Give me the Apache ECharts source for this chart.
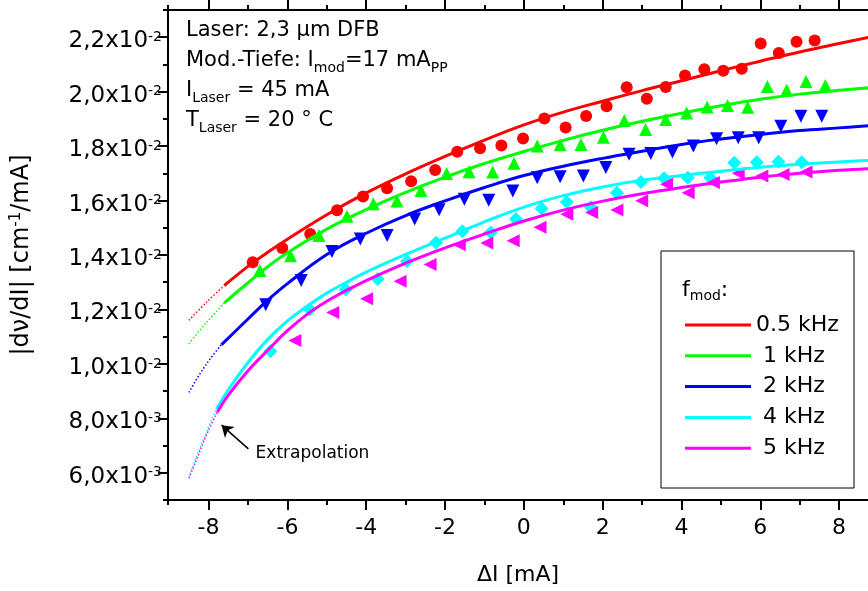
<!DOCTYPE html>
<html>
<head>
<meta charset="utf-8">
<script src="https://cdn.jsdelivr.net/npm/echarts@6/dist/echarts.min.js"></script>
<style>
  html, body { margin: 0; padding: 0; background: #fff; }
  #chart { width: 868px; height: 591px; }
</style>
</head>
<body>
<div id="chart"></div>
<script>
// ---- axis ranges and tick positions ----
const X_MIN = -9.03, X_MAX = 8.733;
const Y_MIN = 0.005, Y_MAX = 0.023;
const xMajorTicks = [-8, -6, -4, -2, 0, 2, 4, 6, 8];
const xMinorTicks = [-9.03, -7, -5, -3, -1, 1, 3, 5, 7];
const yMajorTicks = [0.006, 0.008, 0.010, 0.012, 0.014, 0.016, 0.018, 0.020, 0.022];
const yMinorTicks = [0.005, 0.007, 0.009, 0.011, 0.013, 0.015, 0.017, 0.019, 0.021, 0.023];

// ---- measured tuning rates |dv/dI| per modulation frequency ----
const x05 = [-6.88, -6.13, -5.42, -4.74, -4.08, -3.47, -2.86, -2.25, -1.69, -1.11, -0.57, -0.02, 0.52, 1.06, 1.58, 2.10, 2.61, 3.12, 3.60, 4.09, 4.58, 5.06, 5.53, 6.01, 6.47, 6.92, 7.38];
const y05 = [0.01373, 0.01426, 0.01477, 0.01564, 0.01615, 0.01645, 0.01671, 0.01712, 0.01779, 0.01792, 0.01802, 0.01828, 0.01901, 0.01868, 0.01911, 0.01946, 0.02016, 0.01974, 0.02017, 0.02059, 0.02082, 0.02077, 0.02084, 0.02177, 0.02142, 0.02183, 0.02188];

const x1 = [-6.70, -5.92, -5.20, -4.49, -3.82, -3.22, -2.61, -1.96, -1.39, -0.79, -0.25, 0.34, 0.92, 1.45, 2.02, 2.55, 3.09, 3.60, 4.13, 4.65, 5.17, 5.68, 6.18, 6.67, 7.16, 7.65];
const y1 = [0.01343, 0.01397, 0.01472, 0.01542, 0.01588, 0.01598, 0.01637, 0.01699, 0.01706, 0.01705, 0.01737, 0.01800, 0.01805, 0.01806, 0.01833, 0.01894, 0.01861, 0.01898, 0.01922, 0.01944, 0.01949, 0.01943, 0.02019, 0.02005, 0.02037, 0.02023];

const x2 = [-6.55, -5.65, -4.87, -4.15, -3.47, -2.77, -2.15, -1.51, -0.89, -0.28, 0.34, 0.92, 1.51, 2.08, 2.67, 3.22, 3.77, 4.30, 4.89, 5.44, 5.96, 6.52, 7.03, 7.56];
const y2 = [0.01217, 0.01306, 0.01413, 0.01459, 0.01472, 0.01532, 0.01566, 0.01605, 0.01601, 0.01635, 0.01684, 0.01687, 0.01690, 0.01721, 0.01770, 0.01773, 0.01778, 0.01800, 0.01827, 0.01831, 0.01831, 0.01873, 0.01910, 0.01910];

const x4 = [-6.43, -5.43, -4.52, -3.71, -2.96, -2.23, -1.56, -0.84, -0.20, 0.45, 1.09, 1.70, 2.36, 2.97, 3.56, 4.16, 4.73, 5.34, 5.91, 6.46, 7.05];
const y4 = [0.01046, 0.01200, 0.01273, 0.01312, 0.01377, 0.01445, 0.01487, 0.01483, 0.01532, 0.01571, 0.01595, 0.01575, 0.01629, 0.01668, 0.01682, 0.01684, 0.01684, 0.01739, 0.01741, 0.01743, 0.01741];

const x5 = [-5.81, -4.85, -3.99, -3.14, -2.38, -1.64, -0.94, -0.27, 0.41, 1.09, 1.72, 2.36, 2.99, 3.62, 4.17, 4.81, 5.44, 6.04, 6.58, 7.16];
const y5 = [0.01086, 0.01189, 0.01239, 0.01304, 0.01365, 0.01438, 0.01444, 0.01452, 0.01502, 0.01550, 0.01556, 0.01565, 0.01599, 0.01660, 0.01629, 0.01666, 0.01700, 0.01690, 0.01696, 0.01705];

// ---- fitted curves (solid) and their extrapolation towards low currents (dotted) ----
const fit05 = [[-7.6, 0.01288], [-7, 0.01358], [-6.5, 0.01410], [-6, 0.01458], [-5, 0.01548], [-4, 0.01628], [-3, 0.01698], [-2, 0.01762], [-1, 0.01822], [0, 0.01878], [1, 0.01925], [2, 0.01965], [3, 0.02004], [4, 0.02040], [5, 0.02077], [6, 0.02112], [7, 0.02146], [8, 0.02177], [8.74, 0.02199]];
const ext05 = [[-8.5, 0.01160], [-8.2, 0.01205], [-7.9, 0.01248], [-7.6, 0.01288]];

const fit1 = [[-7.6, 0.01224], [-7, 0.01298], [-6.5, 0.01357], [-6, 0.01408], [-5, 0.01495], [-4, 0.01567], [-3, 0.01630], [-2, 0.01686], [-1, 0.01736], [0, 0.01780], [1, 0.01821], [2, 0.01858], [3, 0.01891], [4, 0.01921], [5, 0.01948], [6, 0.01972], [7, 0.01991], [8, 0.02005], [8.74, 0.02014]];
const ext1 = [[-8.5, 0.01074], [-8.2, 0.01127], [-7.9, 0.01177], [-7.6, 0.01224]];

const fit2 = [[-7.67, 0.01071], [-7, 0.01165], [-6.5, 0.01234], [-6, 0.01295], [-5, 0.01402], [-4, 0.01480], [-3, 0.01545], [-2, 0.01599], [-1, 0.01648], [0, 0.01692], [1, 0.01726], [2, 0.01755], [3, 0.01781], [4, 0.01806], [5, 0.01826], [6, 0.01843], [7, 0.01857], [8, 0.01867], [8.74, 0.01875]];
const ext2 = [[-8.5, 0.00895], [-8.2, 0.00968], [-7.9, 0.01030], [-7.67, 0.01071]];

const fit4 = [[-7.8, 0.00834], [-7.5, 0.00905], [-7, 0.01005], [-6.5, 0.01090], [-6, 0.01158], [-5.5, 0.01212], [-5, 0.01260], [-4.5, 0.01300], [-4, 0.01337], [-3, 0.01402], [-2, 0.01462], [-1, 0.01522], [0, 0.01576], [1, 0.01618], [2, 0.01650], [3, 0.01675], [4, 0.01692], [5, 0.01708], [6, 0.01722], [7, 0.01733], [8, 0.01742], [8.74, 0.01747]];
const ext4 = [[-8.5, 0.00585], [-8.3, 0.00662], [-8.05, 0.00750], [-7.8, 0.00834]];

const fit5 = [[-7.78, 0.00822], [-7.5, 0.00885], [-7, 0.00975], [-6.5, 0.01050], [-6, 0.01122], [-5.5, 0.01182], [-5, 0.01230], [-4.5, 0.01270], [-4, 0.01306], [-3, 0.01370], [-2, 0.01426], [-1, 0.01477], [0, 0.01525], [1, 0.01565], [2, 0.01598], [3, 0.01625], [4, 0.01648], [5, 0.01668], [6, 0.01686], [7, 0.01700], [8, 0.01711], [8.74, 0.01717]];
const ext5 = [[-8.5, 0.00580], [-8.3, 0.00650], [-8.05, 0.00740], [-7.78, 0.00822]];

const freqNames = ['0.5 kHz', '1 kHz', '2 kHz', '4 kHz', '5 kHz'];

// ---- annotation arrow (data coordinates) ----
const arrowFrom = [-6.99, 0.00688];
const arrowTo = [-7.67, 0.00775];
const arrowLabelAt = [-6.82, 0.00672];

const FONT = 'DejaVu Sans';
const BLACK = '#000';
const axisLine = { color: BLACK, width: 2 };

function yTickLabel(v) {
  const exp = Math.floor(Math.log10(v) + 1e-9);
  const mant = (v / Math.pow(10, exp)).toFixed(1).replace('.', ',');
  return '{m|' + mant + 'x10}{e|' + exp + '}';
}

function pairs(xs, ys) { return xs.map((x, i) => [x, ys[i]]); }

const groups = [
  { name: freqNames[0], color: '#ff0000', pts: pairs(x05, y05), fit: fit05, ext: ext05, symbol: 'circle', rot: 0, size: 12 },
  { name: freqNames[1], color: '#00ff00', pts: pairs(x1, y1), fit: fit1, ext: ext1, symbol: 'triangle', rot: 0, size: 13 },
  { name: freqNames[2], color: '#0000ff', pts: pairs(x2, y2), fit: fit2, ext: ext2, symbol: 'triangle', rot: 180, size: 13 },
  { name: freqNames[3], color: '#00ffff', pts: pairs(x4, y4), fit: fit4, ext: ext4, symbol: 'diamond', rot: 0, size: 14 },
  { name: freqNames[4], color: '#ff00ff', pts: pairs(x5, y5), fit: fit5, ext: ext5, symbol: 'triangle', rot: 90, size: 13 }
];

const series = [];
groups.forEach((g, i) => {
  series.push({
    name: g.name + ' Messwerte', type: 'scatter', data: g.pts,
    symbol: g.symbol, symbolRotate: g.rot, symbolSize: g.size,
    itemStyle: { color: g.color, opacity: 1 }, z: 2
  });
  series.push({
    name: g.name, type: 'line', data: g.fit, smooth: 0.4,
    symbol: 'none', showSymbol: false,
    lineStyle: { color: g.color, width: 3 }, itemStyle: { color: g.color }, z: 3
  });
  const ext = {
    name: g.name + ' extrapoliert', type: 'line', data: g.ext, smooth: 0.4,
    symbol: 'none', showSymbol: false,
    lineStyle: { color: g.color, width: 1.5, type: [1.5, 2] }, z: 3
  };
  if (i === groups.length - 1) {
    ext.markLine = {
      silent: true, animation: false,
      symbol: ['none', 'arrow'], symbolSize: 11,
      itemStyle: { color: BLACK },
      lineStyle: { color: BLACK, width: 1.5, type: 'solid' },
      label: { show: false },
      z: 10,
      data: [[{ coord: arrowFrom }, { coord: arrowTo }]]
    };
    ext.markPoint = {
      silent: true, animation: false,
      symbol: 'circle', symbolSize: 1, itemStyle: { color: 'rgba(0,0,0,0)' },
      data: [{
        coord: arrowLabelAt,
        label: { show: true, position: 'right', distance: 0, formatter: 'Extrapolation',
                 color: BLACK, fontFamily: FONT, fontSize: 17 }
      }]
    };
  }
  series.push(ext);
});

const tickStyle = { color: BLACK, width: 2 };
function xAxisDef(pos, ticks, len, withLine, withLabels) {
  const a = {
    type: 'value', position: pos, min: X_MIN, max: X_MAX,
    splitLine: { show: false },
    axisLine: { show: withLine, onZero: false, lineStyle: axisLine },
    axisTick: { show: true, customValues: ticks, length: len, lineStyle: tickStyle },
    axisLabel: { show: false }
  };
  if (withLabels) {
    a.axisLabel = { show: true, customValues: ticks, margin: 17, color: BLACK, fontFamily: FONT, fontSize: 22 };
    a.name = 'ΔI [mA]';
    a.nameLocation = 'middle';
    a.nameGap = 64;
    a.nameTextStyle = { color: BLACK, fontFamily: FONT, fontSize: 22 };
  }
  return a;
}

const option = {
  animation: false,
  backgroundColor: '#fff',
  textStyle: { fontFamily: FONT },
  grid: { left: 168, right: 0, top: 10, bottom: 89 },
  xAxis: [
    xAxisDef('bottom', xMajorTicks, 10, true, true),
    xAxisDef('bottom', xMinorTicks, 5, false, false),
    xAxisDef('top', xMajorTicks, 10, true, false),
    xAxisDef('top', xMinorTicks, 5, false, false)
  ],
  yAxis: [
    {
      type: 'value', position: 'left', min: Y_MIN, max: Y_MAX,
      splitLine: { show: false },
      axisLine: { show: true, onZero: false, lineStyle: axisLine },
      axisTick: { show: true, customValues: yMajorTicks, length: 10, lineStyle: tickStyle },
      axisLabel: {
        show: true, customValues: yMajorTicks, formatter: yTickLabel, margin: 6,
        padding: [8, 0, 0, 0],
        rich: {
          m: { fontFamily: FONT, fontSize: 23, lineHeight: 22, color: BLACK },
          e: { fontFamily: FONT, fontSize: 14, lineHeight: 8, verticalAlign: 'top', color: BLACK }
        }
      },
      name: '{n||dν/dI| [cm}{e|-1}{n|/mA]}',
      nameLocation: 'middle', nameGap: 133, nameRotate: 90,
      nameTextStyle: {
        rich: {
          n: { fontFamily: FONT, fontSize: 24, lineHeight: 26, color: BLACK },
          e: { fontFamily: FONT, fontSize: 15, lineHeight: 8, verticalAlign: 'top', color: BLACK }
        }
      }
    },
    {
      type: 'value', position: 'left', min: Y_MIN, max: Y_MAX,
      splitLine: { show: false },
      axisLine: { show: false, onZero: false },
      axisTick: { show: true, customValues: yMinorTicks, length: 5, lineStyle: tickStyle },
      axisLabel: { show: false }
    }
  ],
  legend: {
    data: freqNames,
    orient: 'vertical', left: 680, top: 309,
    icon: 'rect', itemWidth: 66, itemHeight: 3, itemGap: 8.8,
    selectedMode: false,
    formatter: n => (n === freqNames[0] ? n : ' ' + n),
    textStyle: { fontFamily: FONT, fontSize: 22, color: BLACK, lineHeight: 22 },
    z: 6
  },
  graphic: [
    {
      type: 'text', left: 186, top: 20, z: 6,
      style: {
        text: '{n|Laser: 2,3 μm DFB}\n{n|Mod.-Tiefe: I}{s|mod}{n|=17 mA}{s|PP}\n{n|I}{s|Laser}{n| = 45 mA}\n{n|T}{s|Laser}{n| = 20 ° C}',
        fill: BLACK,
        rich: {
          n: { fontFamily: FONT, fontSize: 21, lineHeight: 30, fill: BLACK },
          s: { fontFamily: FONT, fontSize: 14, lineHeight: 8, verticalAlign: 'bottom', fill: BLACK }
        }
      }
    },
    {
      type: 'rect', z: 5,
      shape: { x: 661, y: 251, width: 193, height: 237 },
      style: { fill: '#fff', stroke: BLACK, lineWidth: 1 }
    },
    {
      type: 'text', left: 682, top: 279, z: 6,
      style: {
        text: '{n|f}{s|mod}{n|:}',
        fill: BLACK,
        rich: {
          n: { fontFamily: FONT, fontSize: 22, lineHeight: 26, fill: BLACK },
          s: { fontFamily: FONT, fontSize: 14, lineHeight: 8, verticalAlign: 'bottom', fill: BLACK }
        }
      }
    }
  ],
  series: series
};

const chart = echarts.init(document.getElementById('chart'), null, { renderer: 'canvas' });
chart.setOption(option);
</script>
</body>
</html>
